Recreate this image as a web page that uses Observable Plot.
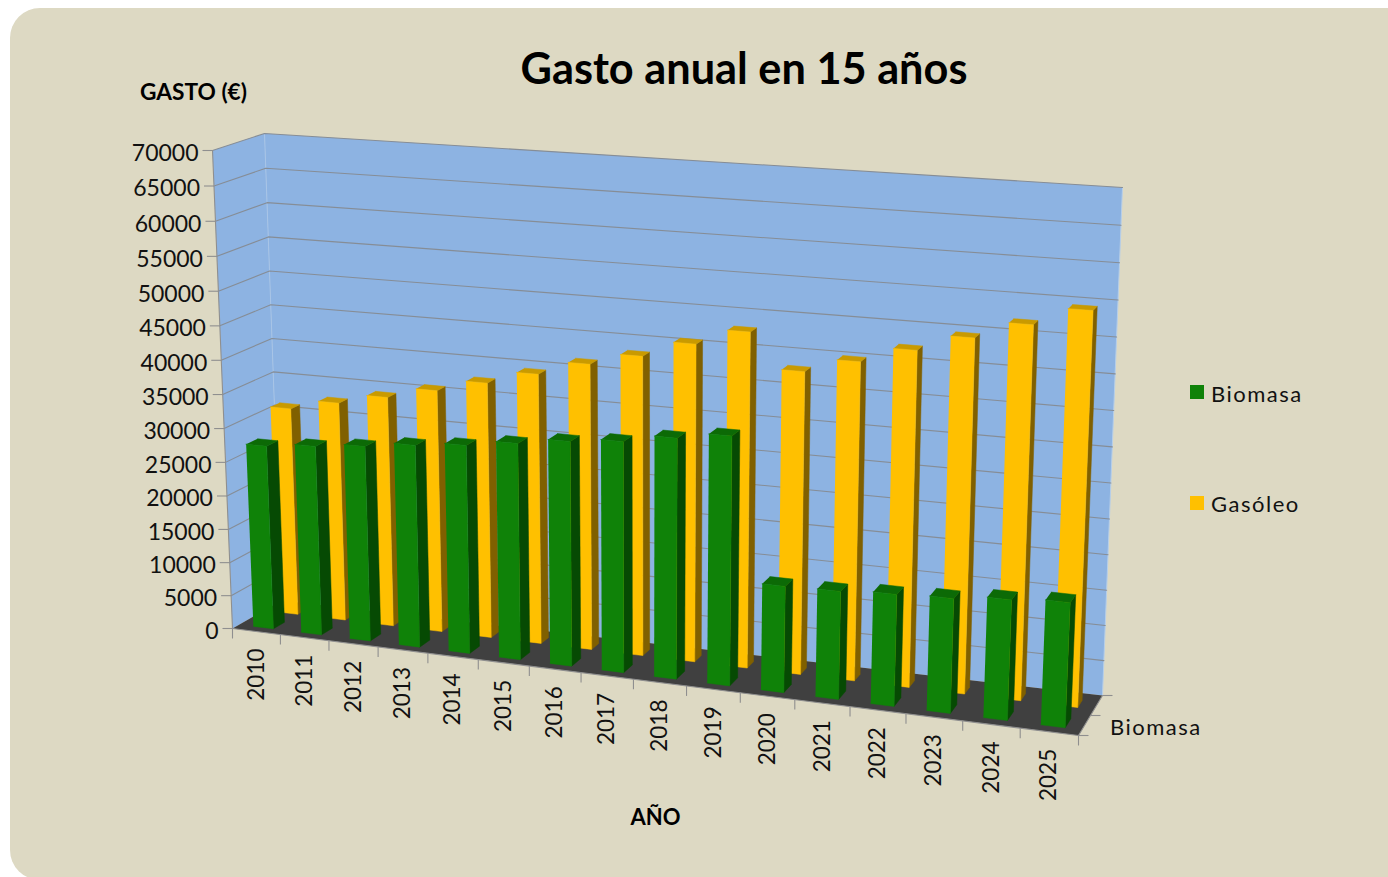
<!DOCTYPE html>
<html lang="es">
<head>
<meta charset="utf-8">
<script src="https://cdn.jsdelivr.net/npm/d3@7"></script>
<script src="https://cdn.jsdelivr.net/npm/@observablehq/plot@0.6"></script>
<style>
  html, body { margin: 0; padding: 0; width: 1388px; height: 877px; overflow: hidden; background: #fff; }
  #card { position: absolute; left: 10px; top: 8px; width: 1440px; height: 872px; border-radius: 30px; background: #ddd9c3; }
  #chart { position: absolute; left: 0; top: 0; }
  .t { position: absolute; font-family: Lato, sans-serif; color: #111; white-space: nowrap; line-height: 1; transform: translate(-50%, -50%); }
  .l { position: absolute; font-family: Lato, sans-serif; color: #111; white-space: nowrap; line-height: 1; font-size: 22px; letter-spacing: 1.5px; transform: translateY(-50%); }
  .k { position: absolute; width: 14px; height: 14px; }
</style>
</head>
<body>
<div id="card"></div>
<div id="chart"></div>
<div class="t" style="left:744px;top:68px;font-size:43.3px;font-weight:700;color:#000">Gasto anual en 15 años</div>
<div class="t" style="left:193.5px;top:91.5px;font-size:22.7px;font-weight:700;color:#000">GASTO (€)</div>
<div class="t" style="left:655.5px;top:816.5px;font-size:22px;font-weight:700;color:#000">AÑO</div>
<div class="k" style="left:1190px;top:385px;background:#0f8208"></div>
<div class="l" style="left:1211px;top:394px">Biomasa</div>
<div class="k" style="left:1190px;top:496px;background:#ffc000"></div>
<div class="l" style="left:1211px;top:504px">Gasóleo</div>
<div class="l" style="left:1110px;top:727px">Biomasa</div>
<script>
// ---- chart values ----
const years = [2010,2011,2012,2013,2014,2015,2016,2017,2018,2019,2020,2021,2022,2023,2024,2025];
const biomasa = [27400,28100,28800,29700,30400,31400,32400,33100,34300,35300,15100,15250,15700,16000,16700,17200];
const gasoleo = [31150,32670,34170,35820,37580,39500,41570,43330,45670,47970,43100,45100,47300,49600,52000,54500];
const valueTicks = [0,5000,10000,15000,20000,25000,30000,35000,40000,45000,50000,55000,60000,65000,70000];
const depthTicks = [0, 0.5, 1];

// ---- 3D view of the chart box: where its eight corners land on the page ----
const view = {
  FLB: [232, 628], FLT: [212, 150], BLB: [281, 600], BLT: [264, 133],
  FRB: [1078, 735], FRT: [1100, 205], BRB: [1102, 695], BRT: [1122, 187]
};
const maxValue = 70000;
const warp = (t, r) => t / (t + r * (1 - t));
const mix = (a, b, t) => a + (b - a) * t;
function project(year, value, depth) {
  const u = warp(year / years.length, 1.11), v = warp(value / maxValue, 1.043), w = depth;
  const at = k => mix(
    mix(mix(view.FLB[k], view.FRB[k], u), mix(view.FLT[k], view.FRT[k], u), v),
    mix(mix(view.BLB[k], view.BRB[k], u), mix(view.BLT[k], view.BRT[k], u), v), w);
  return {x: at(0), y: at(1)};
}

// ---- bars as projected faces ----
const rows = [
  {values: gasoleo, d0: 0.65, d1: 0.83, front: "#ffc000", side: "#806000", top: "#c99a00"},
  {values: biomasa, d0: 0.14, d1: 0.37, front: "#0f8208", side: "#064a03", top: "#0c6a06"}
];
const barFrom = 0.295, barTo = 0.715;
const faces = [];
function face(id, color, corners) {
  for (const c of corners) faces.push({id, color, ...project(...c)});
}
rows.forEach((row, r) => row.values.forEach((val, i) => {
  const a = i + barFrom, b = i + barTo, {d0, d1} = row;
  face(`s${r}-${i}`, row.side, [[b,0,d0],[b,0,d1],[b,val,d1],[b,val,d0]]);
  face(`t${r}-${i}`, row.top, [[a,val,d0],[b,val,d0],[b,val,d1],[a,val,d1]]);
  face(`f${r}-${i}`, row.front, [[a,0,d0],[b,0,d0],[b,val,d0],[a,val,d0]]);
}));

// ---- box walls and grid ----
const N = years.length;
const walls = [];
const wall = (id, color, corners) => corners.forEach(c => walls.push({id, color, ...project(...c)}));
wall("left", "#8db3e2", [[0,0,0],[0,maxValue,0],[0,maxValue,1],[0,0,1]]);
wall("back", "#8db3e2", [[0,0,1],[0,maxValue,1],[N,maxValue,1],[N,0,1]]);
wall("floor", "#404040", [[0,0,0],[N,0,0],[N,0,1],[0,0,1]]);

const grid = valueTicks.filter(v => v > 0).flatMap(v =>
  [[0,v,0],[0,v,1],[N,v,1]].map(c => ({id: v, ...project(...c)})));
const edges = [
  ...[[0,0,0],[0,maxValue,0]].map(c => ({id: "e1", ...project(...c)})),
  ...[[0,0,0],[N,0,0],[N,0,1]].map(c => ({id: "e2", ...project(...c)}))
];
const corner = [[0,0,1],[0,maxValue,1]].map(c => project(...c));
const rightEdge = [[N,0,1],[N,maxValue,1]].map(c => project(...c));

const valueAxis = valueTicks.map(v => ({v, ...project(0, v, 0)}));
const yearBounds = d3.range(N + 1).map(i => project(i, 0, 0));
const yearLabels = years.map((y, i) => ({y0: y, ...project(i + 0.5, 0, 0)}));
const depthAxis = depthTicks.map(d => project(N, 0, d));

const tickColor = "#8f8f8f";
const chart = Plot.plot({
  width: 1388, height: 877, margin: 0,
  x: {domain: [0, 1388], range: [0, 1388], axis: null},
  y: {domain: [0, 877], range: [0, 877], axis: null},
  color: {type: "identity"},
  style: {background: "transparent", fontFamily: "Lato, sans-serif"},
  marks: [
    Plot.line(walls, {x: "x", y: "y", z: "id", fill: "color", stroke: "none"}),
    Plot.line(corner, {x: "x", y: "y", stroke: "#a8c5e8", strokeWidth: 1}),
    Plot.line(rightEdge, {x: "x", y: "y", stroke: "#b7cfe9", strokeWidth: 1}),
    Plot.line(grid, {x: "x", y: "y", z: "id", stroke: "#868d96", strokeWidth: 1.1}),
    Plot.line(edges, {x: "x", y: "y", z: "id", stroke: tickColor, strokeWidth: 1.1}),
    Plot.link(valueAxis, {x1: d => d.x - 10, x2: "x", y1: "y", y2: "y", stroke: tickColor, strokeWidth: 1.1}),
    Plot.link(yearBounds, {x1: "x", x2: "x", y1: "y", y2: d => d.y + 10, stroke: tickColor, strokeWidth: 1.1}),
    Plot.link(depthAxis, {x1: "x", x2: d => d.x + 10, y1: "y", y2: "y", stroke: tickColor, strokeWidth: 1.1}),
    Plot.line(faces, {x: "x", y: "y", z: "id", fill: "color", stroke: "color", strokeWidth: 0.5}),
    Plot.text(valueAxis, {x: d => d.x - 14, y: d => d.y + 3, text: d => String(d.v), textAnchor: "end", fontSize: 23, fill: "#111"}),
    Plot.text(yearLabels, {x: "x", y: d => d.y + 17, text: d => String(d.y0), rotate: -90, textAnchor: "end", fontSize: 22.5, fill: "#111"})
  ]
});
document.getElementById("chart").append(chart);
</script>
</body>
</html>
